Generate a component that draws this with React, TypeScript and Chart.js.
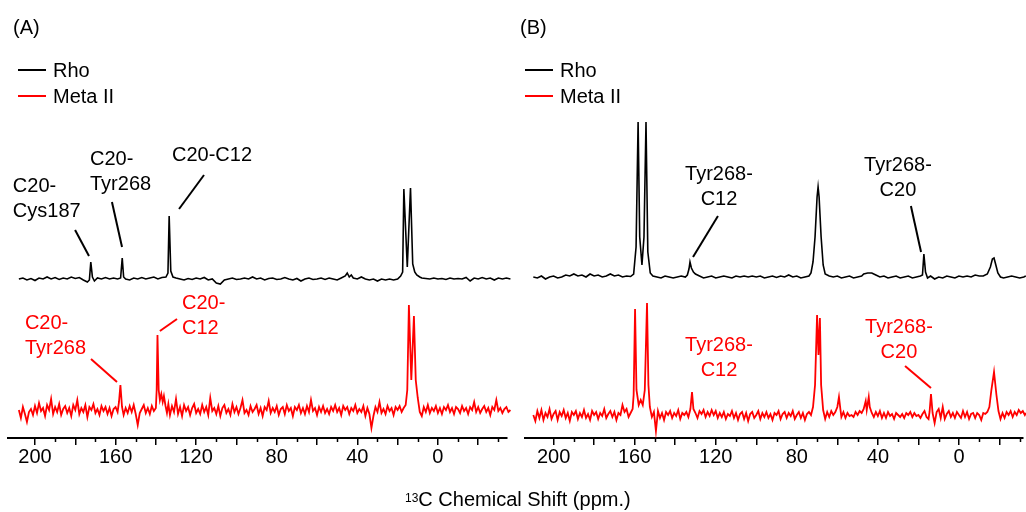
import React, { useEffect, useRef } from 'react';
import { Chart, registerables } from 'chart.js';
Chart.register(...registerables);

const FONT = '"Liberation Sans", Arial, Helvetica, sans-serif';

// ---- Panel A: Rho (black), [ppm, intensity] ----
const rhoA: number[][] = [
  [208,0],[206,1],[204,-1],[202,0.5],[200,-1.5],[198,1],[196,0],[194,2],[192,0],[190,1.5],[188,-0.5],[186,1],[184,0],[182,2],[180,0.5],[178,1.5],[176,-1],[174,-3],[173,-1],[172.3,17],[171.5,2],[170.5,-2],[169,1],[167,0],[165,1.5],[163,0],[161,1],[159,0],[157.5,1],[156.7,21],[156,2],[155,0],[153,-1],[151,1],[149,0],[147,1.5],[145,0],[143,1],[141,2],[139,0],[137,1.5],[135,2],[134,6],[133.4,63],[132.6,8],[131.5,2],[130,1],[128,0],[126,-1],[124,0.5],[122,-0.5],[120,1],[118,0],[116,1.5],[114,-1],[112,0],[110,-4],[108,-5],[106,-1],[104,0],[102,1],[100,-0.5],[98,0],[96,1],[94,0],[92,2],[90,0],[88,1],[86,-1],[84,0.5],[82,1],[80,-0.5],[78,0],[76,1.5],[74,0],[72,-1],[70,0.5],[68,-2],[66,0],[64,1],[62,-0.5],[60,0],[58,1],[56,-0.5],[54,1],[52,0],[50,-1],[48,1],[46,3],[45,6],[44,2],[43,4],[42,1],[40,0],[38,2],[36,0],[34,-1],[32,0],[30,-2],[28,0],[26,-1],[24,0],[22,-1],[20,0],[18.5,3],[17.5,7],[16.9,90],[15.2,12],[13.6,91],[12.5,15],[11.5,7],[10.5,4],[9,2],[8,1],[6,0.5],[4,0],[2,1],[0,0],[-2,0.5],[-4,-0.5],[-6,1],[-8,0],[-10,0.5],[-12,0],[-14,1.5],[-16,-2],[-18,1],[-20,0],[-22,1.5],[-24,0],[-26,1],[-28,-1],[-30,1],[-32,0],[-34,1],[-36,0]
];

// ---- Panel A: Meta II (red) ----
const metaA: number[][] = [
  [208,0],[207,-8],[206,3],[205,-4],[204,-12],[203,-2],[202,1],[201,-5],[200,4],[199,-3],[198,7],[197,-1],[196,2],[195,-6],[194,5],[193,0],[192,11],[191,-4],[190,3],[189,-2],[188,6],[187,-5],[186,1],[185,4],[184,-3],[183,2],[182,-6],[181,5],[180,0],[179,10],[178,-4],[177,2],[176,-2],[175,5],[174,-7],[173,3],[172,0],[171,6],[170,-3],[169,1],[168,-5],[167,4],[166,-1],[165,3],[164,-4],[163,2],[162,-6],[161,1],[160,3],[159,-2],[158.3,8],[157.6,25],[156.8,3],[156,-5],[155,2],[154,-3],[153,4],[152,-2],[151,5],[150,-4],[149,-15],[148,-3],[147,1],[146,5],[145,-3],[144,2],[143,-4],[142,4],[141,-1],[140,2],[139.6,20],[139.2,75],[138.6,20],[138,10],[137.3,16],[136.6,8],[136,14],[135.2,4],[134.5,-3],[133.8,6],[133,-5],[132,4],[131,-2],[130,11],[129,-4],[128,3],[127,-6],[126,5],[125,-1],[124,3],[123,-5],[122,2],[121,6],[120,-3],[119,1],[118,-4],[117,5],[116,-2],[115,3],[114,-5],[113,12],[112,-1],[111,2],[110,-4],[109,4],[108,-6],[107,2],[106,5],[105,-3],[104,1],[103,-5],[102,6],[101,-2],[100,3],[99,-4],[98,2],[97,10],[96,-3],[95,0],[94,-5],[93,4],[92,-2],[91,1],[90,5],[89,-4],[88,2],[87,-6],[86,3],[85,0],[84,9],[83,-3],[82,2],[81,-2],[80,4],[79,-5],[78,1],[77,3],[76,-4],[75,5],[74,-1],[73,2],[72,-6],[71,3],[70,0],[69,5],[68,-3],[67,2],[66,-4],[65,4],[64,-2],[63,10],[62,-1],[61,2],[60,-5],[59,3],[58,-2],[57,4],[56,-3],[55,1],[54,-4],[53,3],[52,-1],[51,5],[50,-2],[49,2],[48,-5],[47,4],[46,0],[45,3],[44,-4],[43,2],[42,-1],[41,5],[40,-3],[39,1],[38,-2],[37,4],[36,-6],[35,2],[34,-4],[33,-18],[32,-6],[31,3],[30,-2],[29,8],[28,-3],[27,1],[26,-4],[25,4],[24,-1],[23,2],[22,-5],[21,3],[20,0],[19,4],[18,-2],[17,2],[16,5],[15.2,20],[14.4,105],[13.2,30],[11.9,94],[11,30],[10,12],[9,-2],[8,-6],[7,3],[6,-2],[5,5],[4,-3],[3,2],[2,-1],[1,4],[0,-3],[-1,2],[-2,-4],[-3,3],[-4,0],[-5,5],[-6,-2],[-7,2],[-8,-4],[-9,3],[-10,1],[-11,-3],[-12,4],[-13,-1],[-14,2],[-15,-4],[-16,3],[-17,0],[-18,8],[-19,-2],[-20,3],[-21,-3],[-22,1],[-23,4],[-24,-2],[-25,2],[-26,-5],[-27,3],[-28,0],[-29,10],[-30,-1],[-31,2],[-32,-3],[-33,1],[-34,3],[-35,-2],[-36,0]
];

// ---- Panel B: Rho (black) ----
const rhoB: number[][] = [
  [210,0],[208,-1],[206,1],[204,-2],[202,0],[200,1],[198,-1],[196,0],[194,2],[192,1],[190,3],[188,1],[186,2],[184,0],[182,3],[180,1],[178,2],[176,0],[174,1],[172,3],[170,1],[168,2],[166,0],[164,1],[162,0.5],[160.5,3],[159.3,30],[158.3,155],[157.5,40],[156.4,12],[155.4,40],[154.4,155],[153.5,25],[152.3,4],[151,1],[149,0],[147,-1],[145,1],[143,0],[141,-1],[139,0],[137,1],[135,0],[134,2],[133.2,8],[132.7,15],[132,9],[131,5],[130,3],[128,1],[126,-1],[124,0],[122,1],[120,-1],[118,0],[116,1],[114,0],[112,-1],[110,1],[108,0],[106,1],[104,0],[102,1],[100,0],[98,1],[96,-1],[94,0],[92,1],[90,-0.5],[88,1],[86,0],[84,2],[82,0],[80,1],[78,-1],[76,0],[74,1],[73,4],[72,15],[71,40],[70,80],[69.5,90],[69,80],[68,40],[67,12],[66,3],[64,1],[62,0],[60,1],[58,-1],[56,0],[54,1],[52,-1],[50,0],[48,1],[47,3],[45,4],[43,4],[41,2],[39,0],[37,1],[35,-1],[33,0],[31,1],[29,-1],[27,0],[25,1],[23,-1],[21,0],[19,1],[18,2],[17.3,23],[16.5,5],[15.5,-1],[14,1],[12,-2],[10,0],[8,-1],[6,1],[4,0],[2,-1],[0,1],[-2,0],[-4,1],[-6,0],[-8,2],[-10,1],[-12,1],[-14,3],[-15.5,10],[-16.5,18],[-17.3,19],[-18.2,12],[-19.2,4],[-20.5,0],[-22,-1],[-24,0],[-26,1],[-28,0],[-30,-1],[-32,0],[-33,1]
];

// ---- Panel B: Meta II (red) ----
const metaB: number[][] = [
  [210,0],[209,-6],[208,4],[207,-3],[206,5],[205,-5],[204,2],[203,-2],[202,6],[201,-4],[200,1],[199,4],[198,-5],[197,3],[196,-1],[195,5],[194,-3],[193,2],[192,-6],[191,3],[190,0],[189,4],[188,-4],[187,2],[186,-2],[185,5],[184,-3],[183,1],[182,-5],[181,4],[180,0],[179,3],[178,-4],[177,2],[176,-1],[175,6],[174,-3],[173,1],[172,4],[171,-2],[170,3],[169,-5],[168,2],[167,0],[166,10],[165,3],[164,6],[163,-2],[162,2],[161,6],[160.5,20],[159.8,106],[159.1,25],[158,10],[157,15],[156,10],[155,25],[153.9,112],[153.2,30],[152.5,8],[151.5,-2],[150.5,3],[149.5,-16],[148.5,4],[147.5,-3],[146.5,2],[145.5,-5],[144.5,3],[143.5,0],[142.5,4],[141.5,-3],[140.5,2],[139.5,-1],[138.5,5],[137.5,-4],[136.5,2],[135.5,0],[134.5,3],[133.5,-2],[132.5,6],[131.7,23],[131,6],[130,2],[129,-3],[128,4],[127,1],[126,5],[125,-2],[124,3],[123,-1],[122,5],[121,0],[120,4],[119,-3],[118,2],[117,-2],[116,3],[115,-4],[114,1],[113,-1],[112,4],[111,-3],[110,2],[109,-5],[108,1],[107,3],[106,-4],[105,2],[104,-6],[103,1],[102,3],[101,-3],[100,0],[99,4],[98,-4],[97,2],[96,-2],[95,3],[94,-3],[93,1],[92,-5],[91,2],[90,0],[89,4],[88,-4],[87,1],[86,3],[85,-3],[84,2],[83,-1],[82,4],[81,-4],[80,0],[79,3],[78,-3],[77,2],[76,-5],[75,1],[74,3],[73,0],[72,8],[71,30],[70,100],[69.3,60],[68.6,97],[68,30],[67,5],[66,-4],[65,3],[64,-2],[63,4],[62,0],[61,3],[60,8],[59.2,18],[58.5,6],[58,-2],[57,3],[56,-3],[55,2],[54,-1],[53,0],[52,-2],[51,3],[50,0],[49,4],[48,2],[47,6],[46,14],[45.5,5],[44.5,18],[44,8],[43,2],[42,-2],[41,3],[40,-1],[39,4],[38,-3],[37,2],[36,-3],[35,3],[34,-1],[33,1],[32,-4],[31,2],[30,0],[29,-2],[28,1],[27,-3],[26,2],[25,0],[24,3],[23,-2],[22,2],[21,-1],[20,0],[19,-3],[18,1],[17,4],[16,-2],[15,-4],[14.5,3],[13.8,21],[13,2],[12,-8],[11,3],[10,6],[9,-3],[8,8],[7,-4],[6,1],[5,4],[4,-2],[3,2],[2,-3],[1,3],[0,0],[-1,-3],[-2,4],[-3,-2],[-4,3],[-5,-4],[-6,1],[-7,2],[-8,-3],[-9,2],[-10,0],[-11,-5],[-12,2],[-13,1],[-14,3],[-15,8],[-16,25],[-17.3,43],[-18.5,20],[-19.5,4],[-20.5,-4],[-21.5,2],[-22.5,-3],[-23.5,3],[-24.5,0],[-25.5,4],[-26.5,-2],[-27.5,3],[-28.5,0],[-29.5,5],[-30.5,2],[-31.5,4],[-32.5,0],[-33,2]
];

const majorTicks = [200, 180, 160, 140, 120, 100, 80, 60, 40, 20, 0, -20];
const tickLabels = [200, 160, 120, 80, 40, 0];
const minorTicks = [190, 170, 150, 130, 110, 90, 70, 50, 30, 10, -10, -30];

type Note = { lines: string[]; ppm: number; v: number; align: CanvasTextAlign; color: string };
type Leader = { p1: number; v1: number; p2: number; v2: number; color: string };

const notesA: Note[] = [
  { lines: ['C20-', 'Cys187'], ppm: 211.0, v: 252, align: 'left', color: '#000' },
  { lines: ['C20-', 'Tyr268'], ppm: 172.7, v: 279, align: 'left', color: '#000' },
  { lines: ['C20-C12'], ppm: 132.0, v: 283, align: 'left', color: '#000' },
  { lines: ['C20-', 'Tyr268'], ppm: 205.0, v: 115, align: 'left', color: '#ff0000' },
  { lines: ['C20-', 'C12'], ppm: 127.0, v: 135, align: 'left', color: '#ff0000' },
];
const leadersA: Leader[] = [
  { p1: 180.1, v1: 208, p2: 173.2, v2: 182, color: '#000' },
  { p1: 161.8, v1: 236, p2: 156.8, v2: 191, color: '#000' },
  { p1: 116.1, v1: 263, p2: 128.5, v2: 229, color: '#000' },
  { p1: 172.2, v1: 79, p2: 159.3, v2: 56, color: '#ff0000' },
  { p1: 138.0, v1: 107, p2: 129.5, v2: 119, color: '#ff0000' },
];
const notesB: Note[] = [
  { lines: ['Tyr268-', 'C12'], ppm: 118.4, v: 264, align: 'center', color: '#000' },
  { lines: ['Tyr268-', 'C20'], ppm: 30.1, v: 273, align: 'center', color: '#000' },
  { lines: ['Tyr268-', 'C12'], ppm: 118.4, v: 93, align: 'center', color: '#ff0000' },
  { lines: ['Tyr268-', 'C20'], ppm: 29.6, v: 111, align: 'center', color: '#ff0000' },
];
const leadersB: Leader[] = [
  { p1: 118.9, v1: 222, p2: 131.2, v2: 181, color: '#000' },
  { p1: 23.7, v1: 232, p2: 18.7, v2: 186, color: '#000' },
  { p1: 26.6, v1: 72, p2: 13.8, v2: 50, color: '#ff0000' },
];

type PanelCfg = {
  rho: number[][]; meta: number[][]; rhoBase: number; metaBase: number;
  min: number; max: number; padL: number; padR: number;
  notes: Note[]; leaders: Leader[];
};

const panelA: PanelCfg = { rho: rhoA, meta: metaA, rhoBase: 159, metaBase: 28, min: -34.3, max: 213.4, padL: 8, padR: 6, notes: notesA, leaders: leadersA };
const panelB: PanelCfg = { rho: rhoB, meta: metaB, rhoBase: 161, metaBase: 23, min: -31.6, max: 214.1, padL: 12, padR: 3, notes: notesB, leaders: leadersB };

function makePlugin(cfg: PanelCfg) {
  return {
    id: 'annot',
    afterDatasetsDraw(chart: any) {
      const { ctx, scales, chartArea } = chart;
      const x = scales.x, y = scales.y;
      ctx.save();
      ctx.strokeStyle = '#000';
      ctx.lineWidth = 1.5;
      for (const t of minorTicks) {
        const px = Math.round(x.getPixelForValue(t)) + 0.5;
        ctx.beginPath();
        ctx.moveTo(px, chartArea.bottom);
        ctx.lineTo(px, chartArea.bottom + 4);
        ctx.stroke();
      }
      ctx.lineWidth = 2;
      for (const l of cfg.leaders) {
        ctx.strokeStyle = l.color;
        ctx.beginPath();
        ctx.moveTo(x.getPixelForValue(l.p1), y.getPixelForValue(l.v1));
        ctx.lineTo(x.getPixelForValue(l.p2), y.getPixelForValue(l.v2));
        ctx.stroke();
      }
      ctx.font = `20px ${FONT}`;
      ctx.textBaseline = 'middle';
      for (const n of cfg.notes) {
        ctx.fillStyle = n.color;
        ctx.textAlign = n.align;
        const px = x.getPixelForValue(n.ppm);
        n.lines.forEach((s, i) => {
          ctx.fillText(s, px, y.getPixelForValue(n.v) + i * 25);
        });
      }
      ctx.restore();
    },
  };
}

function Panel({ cfg, left }: { cfg: PanelCfg; left: number }) {
  const ref = useRef<HTMLCanvasElement>(null);
  useEffect(() => {
    const canvas = ref.current!;
    const chart = new Chart(canvas, {
      type: 'line',
      data: {
        datasets: [
          {
            label: 'Rho',
            data: cfg.rho.map(([p, v]) => ({ x: p, y: v + cfg.rhoBase })),
            borderColor: '#000',
            borderWidth: 1.6,
            pointRadius: 0,
            tension: 0,
            clip: false as any,
          },
          {
            label: 'Meta II',
            data: cfg.meta.map(([p, v]) => ({ x: p, y: v + cfg.metaBase })),
            borderColor: '#ff0000',
            borderWidth: 1.8,
            pointRadius: 0,
            tension: 0,
            clip: false as any,
          },
        ],
      },
      options: {
        animation: false,
        responsive: false,
        events: [],
        layout: { padding: { left: cfg.padL, right: cfg.padR, top: 0, bottom: 0 } },
        plugins: { legend: { display: false }, tooltip: { enabled: false } },
        scales: {
          x: {
            type: 'linear',
            reverse: true,
            min: cfg.min,
            max: cfg.max,
            afterFit: (s: any) => { s.height = 74; },
            afterBuildTicks: (s: any) => { s.ticks = majorTicks.map((v) => ({ value: v })); },
            border: { display: true, color: '#000', width: 2 },
            grid: { display: true, drawOnChartArea: false, drawTicks: true, tickLength: 7, color: '#000', lineWidth: 1.5 },
            ticks: {
              autoSkip: false,
              maxRotation: 0,
              padding: 0,
              color: '#000',
              font: { family: FONT, size: 20 },
              callback: (v: any) => (tickLabels.includes(Number(v)) ? String(v) : ''),
            },
          },
          y: { type: 'linear', display: false, min: 0, max: 438 },
        },
      },
      plugins: [makePlugin(cfg)],
    });
    return () => chart.destroy();
  }, []);
  return (
    <canvas ref={ref} width={513} height={512} style={{ position: 'absolute', left, top: 0, width: 513, height: 512 }} />
  );
}

const txt: React.CSSProperties = { position: 'absolute', fontFamily: FONT, fontSize: 20, lineHeight: '20px', color: '#000', whiteSpace: 'nowrap' };

function Legend({ left, tag }: { left: number; tag: string }) {
  return (
    <>
      <div style={{ ...txt, left: left - 5, top: 17 }}>{tag}</div>
      <div style={{ position: 'absolute', left, top: 69, width: 28, height: 2, background: '#000' }} />
      <div style={{ ...txt, left: left + 35, top: 60 }}>Rho</div>
      <div style={{ position: 'absolute', left, top: 95, width: 28, height: 2, background: '#ff0000' }} />
      <div style={{ ...txt, left: left + 35, top: 86 }}>Meta II</div>
    </>
  );
}

export default function App() {
  return (
    <div style={{ position: 'fixed', left: 0, top: 0, width: 1026, height: 512, background: '#fff', overflow: 'hidden' }}>
      <Panel cfg={panelA} left={0} />
      <Panel cfg={panelB} left={513} />
      <Legend left={18} tag="(A)" />
      <Legend left={525} tag="(B)" />
      <div style={{ ...txt, left: 405, top: 489 }}>
        <sup style={{ fontSize: 12, verticalAlign: 'top', position: 'relative', top: -1 }}>13</sup>C Chemical Shift (ppm.)
      </div>
    </div>
  );
}
